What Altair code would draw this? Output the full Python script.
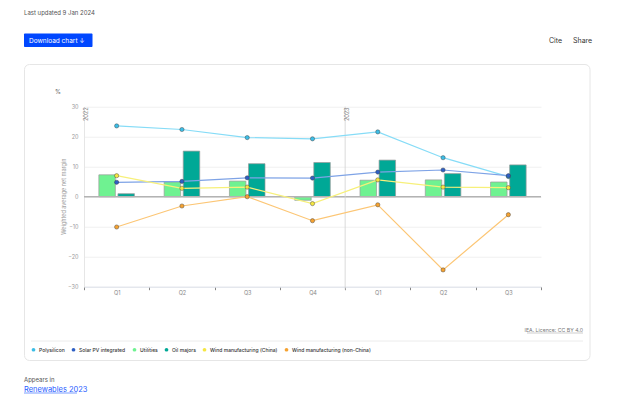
import altair as alt
import pandas as pd

# ---------------- data ----------------
quarters = ["Q1 2022", "Q2 2022", "Q3 2022", "Q4 2022", "Q1 2023", "Q2 2023", "Q3 2023"]
polysilicon = [23.6, 22.4, 19.7, 19.3, 21.6, 13.0, 6.7]
solar_pv = [4.8, 5.1, 6.3, 6.2, 8.2, 8.9, 7.0]
utilities = [7.3, 4.9, 5.2, -1.2, 5.5, 5.6, 4.9]
oil_majors = [1.0, 15.2, 11.0, 11.4, 12.2, 7.7, 10.6]
wind_china = [7.0, 2.8, 3.2, -2.3, 5.6, 3.2, 3.0]
wind_non_china = [-10.1, -3.1, 0.0, -8.0, -2.7, -24.4, -6.0]

line_series = ["Polysilicon", "Solar PV integrated",
               "Wind manufacturing (China)", "Wind manufacturing (non-China)"]
bar_series = ["Utilities", "Oil majors"]
legend_order = ["Polysilicon", "Solar PV integrated", "Utilities", "Oil majors",
                "Wind manufacturing (China)", "Wind manufacturing (non-China)"]
fill_colors = ["#3cbde6", "#2e5fc4", "#6ff291", "#00a896", "#f5e642", "#f5a231"]
line_colors = ["#86dcf7", "#7ea3e6", "#f7f07a", "#fcc675"]
y_ticks = [-30, -20, -10, 0, 10, 20, 30]
years = ["2022", "2023"]
year_starts = ["Q1 2022", "Q1 2023"]

line_rows = []
for name, vals in zip(line_series, [polysilicon, solar_pv, wind_china, wind_non_china]):
    for q, v in zip(quarters, vals):
        line_rows.append({"quarter": q, "series": name, "value": v})
df_lines = pd.DataFrame(line_rows)

bar_rows = []
for name, vals in zip(bar_series, [utilities, oil_majors]):
    for q, v in zip(quarters, vals):
        bar_rows.append({"quarter": q, "series": name, "value": v})
df_bars = pd.DataFrame(bar_rows)

df_years = pd.DataFrame({"quarter": year_starts, "year": years})
df_zero = pd.DataFrame({"value": [0]})

# ---------------- layout ----------------
W, H = 457, 180
OX, OY = 84, 106.7          # page position of plot origin
SVG_W, SVG_H = 626, 386
FONT = "Inter"


def px(x):
    return x - OX


def py(y):
    return y - OY


x_scale = alt.Scale(domain=quarters, paddingInner=0, paddingOuter=0)
y_scale = alt.Scale(domain=[-30, 30], nice=False)
fill_scale = alt.Scale(domain=legend_order, range=fill_colors)
stroke_scale = alt.Scale(domain=line_series, range=line_colors)

x_axis = alt.Axis(title=None, labelExpr="split(datum.label, ' ')[0]", tickBand="extent",
                  grid=False, domainColor="#dde1ea", tickColor="#666", tickSize=3,
                  tickWidth=0.8, labelFontSize=5.5, labelColor="#888", labelPadding=1,
                  labelFont=FONT, labelAngle=0)
y_axis = alt.Axis(title=None, values=y_ticks, grid=True, gridColor="#f0f0f0",
                  domain=True, domainColor="#e6e6e6", ticks=False, labelFontSize=5.5,
                  labelColor="#999", labelPadding=6, labelFont=FONT, labelOverlap=False)

legend = alt.Legend(title=None, orient="none", legendX=px(31), legendY=py(347),
                    direction="horizontal", symbolType="circle", symbolSize=14,
                    symbolStrokeWidth=0, labelFontSize=5, labelFont=FONT,
                    labelFontWeight=500, labelColor="#333", columnPadding=6,
                    labelOffset=3, padding=0, labelLimit=300)

X = alt.X("quarter:N", scale=x_scale, sort=quarters, axis=x_axis)
Y = alt.Y("value:Q", scale=y_scale, axis=y_axis)

blank = alt.Data(values=[{}])


def txt(text, x, y, **kw):
    return alt.Chart(blank).mark_text(text=text, font=FONT, **kw).encode(
        x=alt.value(px(x)), y=alt.value(py(y)))


def box(x1, y1, x2, y2, **kw):
    return alt.Chart(blank).mark_rect(**kw).encode(
        x=alt.value(px(x1)), x2=alt.value(px(x2)),
        y=alt.value(py(y1)), y2=alt.value(py(y2)))


def hline(x1, x2, y, **kw):
    return alt.Chart(blank).mark_rule(**kw).encode(
        x=alt.value(px(x1)), x2=alt.value(px(x2)), y=alt.value(py(y)))


card = box(24.5, 64.5, 590, 360.5, fill="white", fillOpacity=0, stroke="#e6e6e6",
           strokeWidth=1, cornerRadius=5)

bars = alt.Chart(df_bars).mark_bar(stroke="#9a9a9a", strokeWidth=0.7).encode(
    x=X,
    xOffset=alt.XOffset("series:N", sort=bar_series,
                        scale=alt.Scale(domain=bar_series, paddingInner=0.136,
                                        paddingOuter=0.778)),
    y=Y,
    fill=alt.Fill("series:N", scale=fill_scale, legend=legend),
)

zero = alt.Chart(df_zero).mark_rule(color="#b3b3b3", strokeWidth=1.5).encode(
    y=alt.Y("value:Q", scale=y_scale, axis=y_axis), x=alt.value(0), x2=alt.value(W))

year_rule = alt.Chart(df_years[df_years["year"] == "2023"]).mark_rule(
    color="#cfcfcf", strokeWidth=0.8).encode(
    x=alt.X("quarter:N", scale=x_scale, bandPosition=0, axis=x_axis),
    y=alt.value(0), y2=alt.value(H + 3))

year_text = alt.Chart(df_years).mark_text(
    angle=270, align="right", baseline="top", fontSize=5.5, color="#777", font=FONT, dx=2
).encode(x=alt.X("quarter:N", scale=x_scale, bandPosition=0, axis=x_axis),
         y=alt.value(py(109.5)), text="year:N")

lines = alt.Chart(df_lines).mark_line(strokeWidth=1.2).encode(
    x=X, y=Y,
    stroke=alt.Stroke("series:N", scale=stroke_scale, legend=None),
    detail="series:N",
)

points = alt.Chart(df_lines).mark_circle(size=18, opacity=1, stroke="#333",
                                         strokeOpacity=0.7, strokeWidth=0.6).encode(
    x=X, y=Y,
    fill=alt.Fill("series:N", scale=fill_scale, legend=legend),
)

texts = [
    txt("Last updated 9 Jan 2024", 24, 13, fontSize=6, color="#555", align="left", baseline="middle"),
    box(24, 33.5, 92.5, 47, fill="#0047ff", cornerRadius=1),
    txt("Download chart  \u2193", 29, 40.5, fontSize=6.5, color="white", align="left", baseline="middle"),
    txt("Cite", 549, 40.5, fontSize=7, color="#333", align="left", baseline="middle"),
    txt("Share", 573, 40.5, fontSize=7, color="#333", align="left", baseline="middle"),
    txt("%", 58, 92, fontSize=6, color="#666", align="center", baseline="middle"),
    alt.Chart(blank).mark_text(text="Weighted average net margin", font=FONT, angle=270,
                               fontSize=5.5, color="#999", align="center", baseline="middle").encode(
        x=alt.value(px(64)), y=alt.value(H / 2)),
    txt("IEA. Licence: CC BY 4.0", 583, 330, fontSize=5.2, color="#777", align="right", baseline="middle"),
    hline(527, 583, 333, color="#999", strokeWidth=0.5),
    hline(31, 583, 341, color="#ececec", strokeWidth=1),
    txt("Appears in", 24, 380, fontSize=6, color="#555", align="left", baseline="middle"),
    txt("Renewables 2023", 24, 389.5, fontSize=7.5, color="#1f5cff", align="left", baseline="middle"),
    hline(24, 77, 393, color="#1f5cff", strokeWidth=0.6),
]

chart = alt.layer(card, bars, zero, year_rule, year_text, lines, points, *texts).resolve_scale(
    fill="shared"
).properties(
    width=W, height=H,
    autosize=alt.AutoSizeParams(type="none"),
    padding={"left": OX - 8, "top": OY - 8, "right": SVG_W - (OX - 8) - W,
             "bottom": SVG_H - (OY - 8) - H},
).configure(font=FONT).configure_view(stroke=None, strokeWidth=0).configure_axisX(grid=False)

chart.save("out.html", embed_options={"renderer": "svg", "actions": False})
